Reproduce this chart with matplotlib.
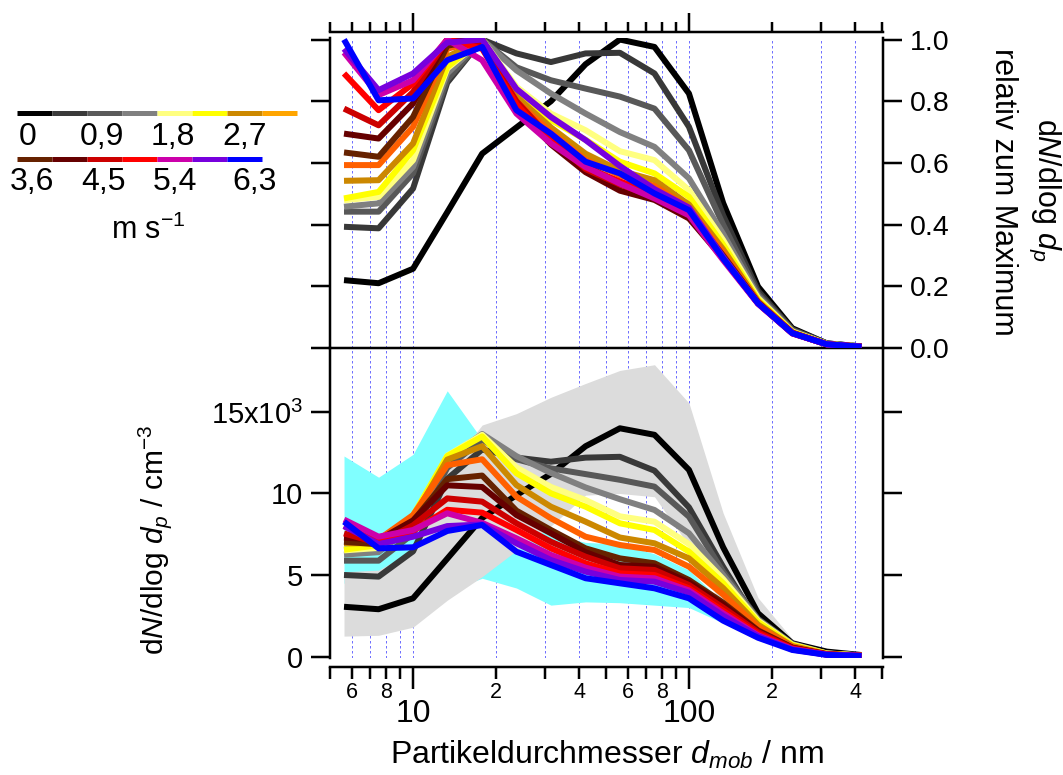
import matplotlib
matplotlib.use('Agg')
import matplotlib.pyplot as plt
from matplotlib.ticker import FixedLocator, FixedFormatter, FormatStrFormatter, NullLocator

plt.rcParams['font.family'] = ['Liberation Sans', 'DejaVu Sans']
plt.rcParams['mathtext.fontset'] = 'custom'
plt.rcParams['mathtext.rm'] = 'Liberation Sans'
plt.rcParams['mathtext.it'] = 'Liberation Sans:italic'
plt.rcParams['mathtext.bf'] = 'Liberation Sans:bold'

# ---------------- data ----------------
diameter = [5.62, 7.50, 10.0, 13.3, 17.8, 23.7, 31.6, 42.2, 56.2, 75.0,
            100, 133, 178, 237, 316, 422]

line_colors = ['#000000', '#383838', '#585858', '#808080', '#ffff80', '#ffff00',
               '#cc8800', '#ff6000', '#662200', '#660000', '#cc0000', '#ff0000',
               '#cc00aa', '#7700dd', '#0000ff']

legend_row1_colors = ['#000000', '#3a3a3a', '#5a5a5a', '#808080', '#ffff80',
                      '#ffff00', '#cc8800', '#ffa500']
legend_row2_colors = ['#662200', '#660000', '#cc0000', '#ff0000', '#cc00aa',
                      '#7700dd', '#0000ff']
legend_row1_labels = ['0', '0,9', '1,8', '2,7']
legend_row2_labels = ['3,6', '4,5', '5,4', '6,3']

# normalised size distributions (top panel)
norm_0 = [0.220, 0.210, 0.257, 0.44, 0.63, 0.715, 0.80, 0.92, 1.00, 0.976, 0.825, 0.47, 0.199, 0.064, 0.015, 0.005]
norm_1 = [0.393, 0.388, 0.517, 0.86, 1.00, 0.955, 0.927, 0.955, 0.957, 0.89, 0.717, 0.43, 0.185, 0.060, 0.015, 0.005]
norm_2 = [0.442, 0.442, 0.566, 0.87, 1.00, 0.91, 0.868, 0.841, 0.815, 0.776, 0.641, 0.40, 0.175, 0.058, 0.014, 0.005]
norm_3 = [0.458, 0.469, 0.587, 0.89, 1.00, 0.90, 0.825, 0.76, 0.700, 0.652, 0.55, 0.37, 0.168, 0.055, 0.014, 0.005]
norm_4 = [0.479, 0.490, 0.609, 0.906, 1.00, 0.847, 0.76, 0.706, 0.638, 0.609, 0.512, 0.35, 0.162, 0.053, 0.013, 0.005]
norm_5 = [0.485, 0.506, 0.641, 0.911, 1.00, 0.83, 0.739, 0.675, 0.604, 0.566, 0.49, 0.335, 0.157, 0.052, 0.013, 0.004]
norm_6 = [0.542, 0.544, 0.663, 0.944, 1.00, 0.815, 0.715, 0.63, 0.575, 0.544, 0.465, 0.32, 0.152, 0.050, 0.012, 0.004]
norm_7 = [0.593, 0.593, 0.717, 0.97, 1.00, 0.80, 0.70, 0.61, 0.56, 0.525, 0.455, 0.31, 0.150, 0.050, 0.012, 0.004]
norm_8 = [0.634, 0.620, 0.749, 0.98, 1.00, 0.79, 0.68, 0.59, 0.535, 0.505, 0.44, 0.30, 0.148, 0.049, 0.012, 0.004]
norm_9 = [0.695, 0.679, 0.793, 1.00, 0.99, 0.78, 0.66, 0.57, 0.51, 0.48, 0.42, 0.29, 0.145, 0.048, 0.012, 0.004]
norm_10 = [0.776, 0.722, 0.83, 1.00, 0.98, 0.80, 0.68, 0.58, 0.53, 0.49, 0.435, 0.29, 0.145, 0.048, 0.012, 0.004]
norm_11 = [0.89, 0.771, 0.857, 1.00, 0.97, 0.79, 0.67, 0.585, 0.54, 0.50, 0.44, 0.29, 0.145, 0.048, 0.012, 0.004]
norm_12 = [0.958, 0.82, 0.868, 1.00, 0.933, 0.76, 0.663, 0.587, 0.533, 0.485, 0.43, 0.285, 0.143, 0.047, 0.012, 0.004]
norm_13 = [0.97, 0.836, 0.89, 0.99, 1.00, 0.84, 0.749, 0.674, 0.59, 0.515, 0.455, 0.295, 0.145, 0.048, 0.012, 0.004]
norm_14 = [1.00, 0.803, 0.809, 0.933, 0.976, 0.771, 0.695, 0.604, 0.566, 0.501, 0.447, 0.29, 0.145, 0.048, 0.012, 0.004]

# absolute size distributions dN/dlog dp (bottom panel, cm^-3)
conc_0 = [3050, 2900, 3570, 6000, 8500, 9900, 11200, 12900, 14000, 13600, 11450, 6700, 2650, 810, 300, 90]
conc_1 = [5000, 4900, 6450, 10900, 12700, 12200, 11950, 12200, 12250, 11400, 9150, 5500, 2050, 700, 190, 60]
conc_2 = [5880, 5880, 7530, 11570, 13300, 12100, 11540, 11190, 10840, 10420, 8580, 5200, 2300, 770, 190, 65]
conc_3 = [6250, 6400, 8010, 12150, 13650, 12290, 11260, 10370, 9650, 8990, 7560, 5000, 2250, 750, 190, 65]
conc_4 = [6510, 6660, 8280, 12320, 13600, 11600, 10400, 9600, 8600, 8270, 6900, 4750, 2200, 720, 180, 60]
conc_5 = [6550, 6830, 8650, 12300, 13500, 11240, 10010, 9190, 8170, 7760, 6430, 4500, 2120, 700, 175, 55]
conc_6 = [6940, 6960, 8490, 12080, 12900, 10520, 9190, 8270, 7300, 6945, 6020, 4200, 1950, 640, 155, 50]
conc_7 = [7180, 7180, 8680, 11740, 12100, 9805, 8477, 7350, 6840, 6534, 5510, 3800, 1820, 605, 145, 50]
conc_8 = [7040, 6880, 8310, 10880, 11100, 8947, 7760, 6635, 6020, 5720, 4693, 3300, 1600, 550, 135, 45]
conc_9 = [7300, 7150, 8350, 10500, 10400, 8680, 7560, 6400, 5613, 5510, 4550, 3200, 1550, 530, 130, 45]
conc_10 = [7550, 6950, 8050, 9700, 9500, 8170, 7040, 6123, 5410, 5307, 4387, 3000, 1500, 510, 125, 40]
conc_11 = [8000, 7000, 7700, 9000, 8825, 7760, 6635, 5720, 5100, 5000, 4183, 2800, 1400, 480, 120, 40]
conc_12 = [8400, 7350, 7760, 8786, 8200, 7250, 6227, 5450, 4900, 4800, 4050, 2650, 1300, 450, 115, 40]
conc_13 = [8000, 6900, 7350, 8000, 8100, 6945, 5920, 5205, 4693, 4590, 3917, 2500, 1250, 430, 110, 35]
conc_14 = [8270, 6635, 6700, 7700, 8068, 6430, 5613, 4800, 4490, 4183, 3570, 2200, 1150, 400, 100, 30]

# variability bands (bottom panel)
grey_hi = [5200, 5300, 6500, 11500, 14200, 14900, 15900, 16750, 17550, 17900, 15550, 8800, 3600, 1070, 300, 60]
grey_lo = [1250, 1300, 1800, 3450, 4900, 6500, 8000, 9900, 10000, 9800, 6800, 3000, 1300, 400, 100, 20]
cyan_hi = [12300, 11000, 12400, 16300, 13300, 9500, 7500, 7000, 6900, 6300, 5300, 3300, 1700, 600, 200, 80]
cyan_lo = [4500, 4500, 4000, 4000, 4800, 4200, 3150, 3350, 3300, 3150, 3000, 2050, 1000, 300, 100, 40]

norm_series = [norm_0, norm_1, norm_2, norm_3, norm_4, norm_5, norm_6, norm_7,
               norm_8, norm_9, norm_10, norm_11, norm_12, norm_13, norm_14]
conc_series = [conc_0, conc_1, conc_2, conc_3, conc_4, conc_5, conc_6, conc_7,
               conc_8, conc_9, conc_10, conc_11, conc_12, conc_13, conc_14]

grid_x = [6, 7, 8, 9, 10, 20, 30, 40, 50, 60, 70, 80, 90, 100, 200, 300, 400]
minor_x = [5, 6, 7, 8, 9, 20, 30, 40, 50, 60, 70, 80, 90, 200, 300, 400, 500]
minor_x_labels = ['', '6', '', '8', '', '2', '', '4', '', '6', '', '8', '', '2', '', '4', '']
major_x = [10, 100]
major_x_labels = ['10', '100']
top_y_ticks = [0.0, 0.2, 0.4, 0.6, 0.8, 1.0]
bot_y_ticks = [0, 5000, 10000, 15000]
bot_y_labels = ['0', '5', '10', r'15x10$^{3}$']

# ---------------- figure ----------------
W, H = 1063, 775
PT = 0.72  # points per pixel at dpi 100
LW = 6 * PT
fig = plt.figure(figsize=(W / 100, H / 100), dpi=100)


def px_rect(x0, y0, x1, y1):
    return [x0 / W, 1 - y1 / H, (x1 - x0) / W, (y1 - y0) / H]


ax1 = fig.add_axes(px_rect(330, 38, 883, 348))
ax2 = fig.add_axes(px_rect(330, 348, 883, 658))

for ax in (ax1, ax2):
    ax.set_xscale('log')
    ax.set_xlim(5, 505)
    ax.xaxis.set_major_locator(FixedLocator(major_x))
    ax.xaxis.set_minor_locator(FixedLocator(minor_x))
    ax.yaxis.set_minor_locator(NullLocator())
    for s in ax.spines.values():
        s.set_linewidth(2.5 * PT)
    ax.tick_params(which='both', direction='out', width=2.5 * PT, color='black')
    for g in grid_x:
        ax.axvline(g, color='#7070ff', lw=1.0 * PT, ls=(0, (2.5, 2.5)), zorder=0.5)
    ax.set_facecolor('none')

# top panel
ax1.set_ylim(0, 1.005)
ax1.spines['top'].set_position(('outward', 6 * PT))
ax1.tick_params(axis='x', which='both', top=True, bottom=False,
                labeltop=False, labelbottom=False)
ax1.tick_params(axis='x', which='major', length=19 * PT)
ax1.tick_params(axis='x', which='minor', length=10 * PT)
ax1.yaxis.set_major_locator(FixedLocator(top_y_ticks))
ax1.yaxis.set_major_formatter(FormatStrFormatter('%.1f'))
ax1.tick_params(axis='y', which='major', left=True, right=True, labelleft=False,
                labelright=True, length=19 * PT, labelsize=20.5, pad=6)

for i, (ys, c) in enumerate(zip(norm_series, line_colors)):
    ax1.plot(diameter, ys, color=c, lw=LW, zorder=3 + i * 0.01,
             solid_joinstyle='round', solid_capstyle='butt')

# bottom panel
ax2.set_ylim(-92, 18926)
ax2.spines['top'].set_visible(False)
ax2.spines['bottom'].set_position(('outward', 9 * PT))
ax2.xaxis.set_major_formatter(FixedFormatter(major_x_labels))
ax2.xaxis.set_minor_formatter(FixedFormatter(minor_x_labels))
ax2.tick_params(axis='x', which='major', length=22 * PT, labelsize=23, pad=7)
ax2.tick_params(axis='x', which='minor', length=12 * PT, labelsize=15.5, pad=2)
ax2.yaxis.set_major_locator(FixedLocator(bot_y_ticks))
ax2.yaxis.set_major_formatter(FixedFormatter(bot_y_labels))
ax2.tick_params(axis='y', which='major', left=True, right=True, labelleft=True,
                labelright=False, length=19 * PT, labelsize=21, pad=6)

ax2.fill_between(diameter, cyan_lo, cyan_hi, color='#80ffff', lw=0, zorder=1)
ax2.fill_between(diameter, grey_lo, grey_hi, color='#dcdcdc', lw=0, zorder=2)
for i, (ys, c) in enumerate(zip(conc_series, line_colors)):
    ax2.plot(diameter, ys, color=c, lw=LW, zorder=3 + i * 0.01,
             solid_joinstyle='round', solid_capstyle='butt')

# axis titles
fig.text(606.5 / W, 1 - 755 / H, r'Partikeldurchmesser $\mathit{d}_{\mathit{mob}}$ / nm',
         ha='center', va='center', fontsize=23)
fig.text(155 / W, 1 - 540 / H, r'd$\mathit{N}$/dlog $\mathit{d}_{\mathit{p}}$ / cm$^{-3}$',
         ha='center', va='center', rotation=90, fontsize=21.5)
fig.text(1045 / W, 1 - 190 / H, r'd$\mathit{N}$/dlog $\mathit{d}_{\mathit{p}}$',
         ha='center', va='center', rotation=270, fontsize=22)
fig.text(1003 / W, 1 - 192 / H, 'relativ zum Maximum',
         ha='center', va='center', rotation=270, fontsize=22)

# colour legend
axl = fig.add_axes([0, 0, 1, 1])
axl.set_xlim(0, W)
axl.set_ylim(H, 0)
axl.axis('off')
seg = 35
for j, c in enumerate(legend_row1_colors):
    axl.plot([17 + j * seg, 17 + (j + 1) * seg], [113, 113], color=c, lw=5 * PT,
             solid_capstyle='butt')
for j, c in enumerate(legend_row2_colors):
    axl.plot([17 + j * seg, 17 + (j + 1) * seg], [159, 159], color=c, lw=5 * PT,
             solid_capstyle='butt')
for x, t in zip([28, 102, 173, 245], legend_row1_labels):
    axl.text(x, 137, t, ha='center', va='center', fontsize=23)
for x, t in zip([32, 103, 175, 255], legend_row2_labels):
    axl.text(x, 182, t, ha='center', va='center', fontsize=23)
axl.text(148, 230, r'm s$^{-1}$', ha='center', va='center', fontsize=22)

fig.savefig('out.png', dpi=100)
